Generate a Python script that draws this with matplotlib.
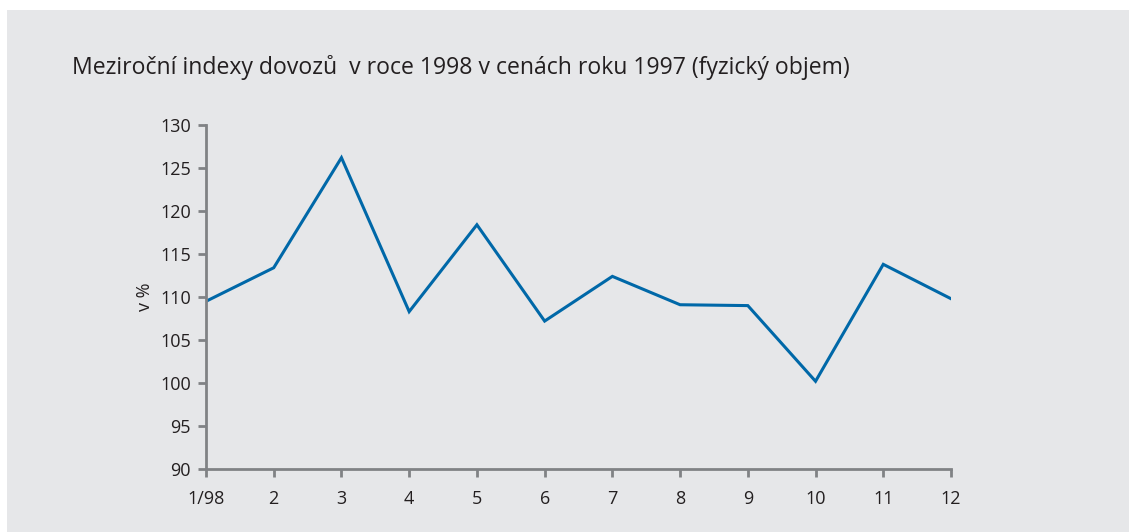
import matplotlib.pyplot as plt

# monthly year-on-year import index, 1998 (1997 prices)
months = ["1/98", "2", "3", "4", "5", "6", "7", "8", "9", "10", "11", "12"]
index_values = [109.5, 113.4, 126.2, 108.3, 118.4, 107.2, 112.4, 109.1, 109.0, 100.2, 113.8, 109.8]
y_ticks = [90, 95, 100, 105, 110, 115, 120, 125, 130]

plt.rcParams['font.family'] = ['Open Sans', 'DejaVu Sans']

bg = '#e6e7e9'
axis_grey = '#808285'
line_blue = '#0068a8'
text_col = '#231f20'

fig = plt.figure(figsize=(11.29, 5.32), dpi=100)
fig.patch.set_facecolor('white')
# grey panel behind everything
fig.patches.append(plt.Rectangle((7 / 1129, 0), 1 - 7 / 1129, 1 - 10 / 532,
                                 transform=fig.transFigure, facecolor=bg,
                                 edgecolor='none', zorder=-10))

ax = fig.add_axes([206 / 1129, 63 / 532, 745 / 1129, 344 / 532])
ax.patch.set_alpha(0)

x = list(range(1, len(months) + 1))
ax.plot(x, index_values, color=line_blue, linewidth=2.2, solid_joinstyle='miter')

ax.set_xlim(1, 12)
ax.set_ylim(90, 130)
ax.set_xticks(x)
ax.set_xticklabels(months)
ax.set_yticks(y_ticks)

for side in ['top', 'right']:
    ax.spines[side].set_visible(False)
for side in ['left', 'bottom']:
    ax.spines[side].set_color(axis_grey)
    ax.spines[side].set_linewidth(2)

ax.tick_params(axis='both', direction='out', length=6, width=2, color=axis_grey,
               labelsize=13, labelcolor=text_col)
ax.tick_params(axis='x', pad=9)
ax.tick_params(axis='y', pad=5)

ax.set_ylabel('v %', fontsize=13, color=text_col, labelpad=4)

fig.text(72 / 1129, 1 - 68 / 532, 'Meziroční indexy dovozů  v roce 1998 v cenách roku 1997 (fyzický objem)',
         fontsize=16.6, color=text_col, va='center', ha='left')

fig.savefig('out.png', dpi=100)
